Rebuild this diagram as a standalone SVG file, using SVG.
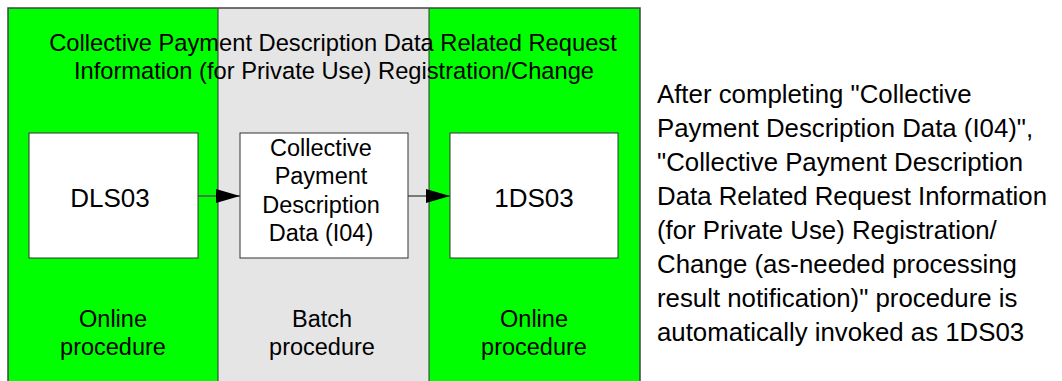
<svg xmlns="http://www.w3.org/2000/svg" width="1062" height="381" viewBox="0 0 1062 381">
<style>
text{font-family:"Liberation Sans",Arial,sans-serif;fill:#000}
.t{font-size:23.5px;text-anchor:middle}
.ttl{font-size:23.7px;text-anchor:middle}
.big{font-size:26px;text-anchor:middle}
.note{font-size:25.8px}
.box{fill:#fff;stroke:#333;stroke-width:1}
.conn{stroke:#555;stroke-width:1.5;fill:none;marker-end:url(#ah)}
</style>
<defs>
<marker id="ah" markerUnits="userSpaceOnUse" markerWidth="26" markerHeight="16" refX="24" refY="7" orient="auto">
<path d="M0,0 L24,7 L0,14 Z" fill="#000"/>
</marker>
</defs>
<g id="lanes">
<rect x="8" y="8" width="210" height="380" fill="#00ff00"/>
<rect x="218" y="8" width="211" height="380" fill="#e5e5e5"/>
<rect x="429" y="8" width="211" height="380" fill="#00ff00"/>
<line x1="218" y1="8" x2="218" y2="381" stroke="#333" stroke-width="1"/>
<line x1="429" y1="8" x2="429" y2="381" stroke="#333" stroke-width="1"/>
<rect x="8" y="8" width="632" height="380" fill="none" stroke="#444" stroke-width="1.5"/>
</g>
<g id="title">
<text class="ttl" x="333" y="51">Collective Payment Description Data Related Request</text>
<text class="ttl" x="334" y="79">Information (for Private Use) Registration/Change</text>
</g>
<g id="connectors">
<line class="conn" x1="198" y1="196" x2="240" y2="196"/>
<line class="conn" x1="408" y1="196" x2="450" y2="196"/>
</g>
<g id="DLS03">
<rect class="box" x="29" y="133" width="169" height="125"/>
<text class="big" x="110" y="207">DLS03</text>
</g>
<g id="I04">
<rect class="box" x="240" y="133" width="168" height="125"/>
<text class="t" x="321" y="156">Collective</text>
<text class="t" x="321" y="184">Payment</text>
<text class="t" x="321" y="213">Description</text>
<text class="t" x="321" y="241">Data (I04)</text>
</g>
<g id="1DS03">
<rect class="box" x="450" y="133" width="168" height="125"/>
<text class="big" x="534" y="207">1DS03</text>
</g>
<g id="labels">
<text class="t" x="113" y="327">Online</text>
<text class="t" x="113" y="355">procedure</text>
<text class="t" x="322" y="327">Batch</text>
<text class="t" x="322" y="355">procedure</text>
<text class="t" x="534" y="327">Online</text>
<text class="t" x="534" y="355">procedure</text>
</g>
<g id="note">
<text class="note" x="657" y="103">After completing "Collective</text>
<text class="note" x="657" y="137">Payment Description Data (I04)",</text>
<text class="note" x="657" y="171">"Collective Payment Description</text>
<text class="note" x="657" y="205">Data Related Request Information</text>
<text class="note" x="657" y="239">(for Private Use) Registration/</text>
<text class="note" x="657" y="273">Change (as-needed processing</text>
<text class="note" x="657" y="307">result notification)" procedure is</text>
<text class="note" x="657" y="341">automatically invoked as 1DS03</text>
</g>
</svg>
